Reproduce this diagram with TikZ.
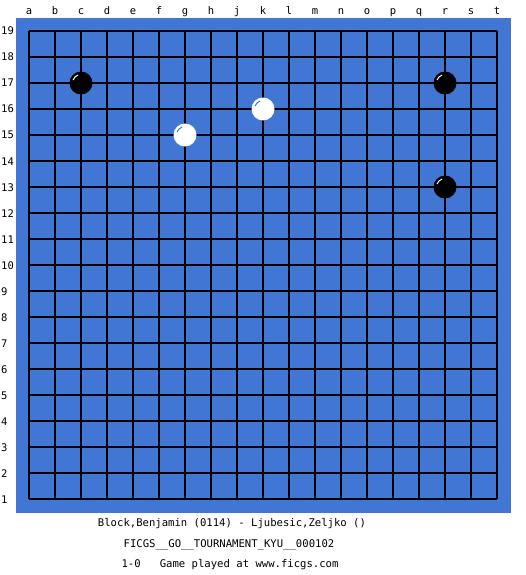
\documentclass[tikz,border=0pt]{standalone}
\usepackage{fontspec}
\setmonofont{DejaVu Sans Mono}
\definecolor{board}{RGB}{66,118,212}
\begin{document}
\begin{tikzpicture}[x=1pt,y=-1pt,
  gridline/.style={black,line width=1.1pt},
  lab/.style={font=\ttfamily\fontsize{10.5}{12}\selectfont,inner sep=0pt},
  caption/.style={font=\ttfamily\fontsize{10.6}{12}\selectfont,inner sep=0pt},
  bstone/.style={fill=black},
  wstone/.style={fill=white},
  hlw/.style={white,line width=1pt},
  hlb/.style={board,line width=1pt}]
\useasboundingbox (0,0) rectangle (525,575);
\fill[board] (16,18) rectangle (511,513);
\foreach \i in {0,...,18} {
  \draw[gridline] (29+26*\i,31) -- (29+26*\i,499);
  \draw[gridline] (29,31+26*\i) -- (497,31+26*\i);
}
\foreach \l [count=\i from 0] in {a,b,c,d,e,f,g,h,j,k,l,m,n,o,p,q,r,s,t}
  \node[lab,anchor=base] (col\i) at (29+26*\i,15) {\l};
\foreach \r in {1,...,19}
  \node[lab,anchor=base west] (row\r) at (1,35+26*19-26*\r) {\r};
% black stones
\foreach \x/\y in {81/83,445/83,445/187} {
  \fill[bstone] (\x,\y) circle (11.5);
  \draw[hlw] (\x,\y) ++(200:8.5) arc (200:250:8.5);
}
% white stones
\foreach \x/\y in {185/135,263/109} {
  \fill[wstone] (\x,\y) circle (11.5);
  \draw[hlb] (\x,\y) ++(200:8.5) arc (200:250:8.5);
}
\node[caption] (t1) at (232,524) {Block,Benjamin (0114) - Ljubesic,Zeljko ()};
\node[caption] (t2) at (229,545) {FICGS\_\_GO\_\_TOURNAMENT\_KYU\_\_000102};
\node[caption] (t3) at (230,565) {1-0\ \ \ Game played at www.ficgs.com};
\end{tikzpicture}
\end{document}
